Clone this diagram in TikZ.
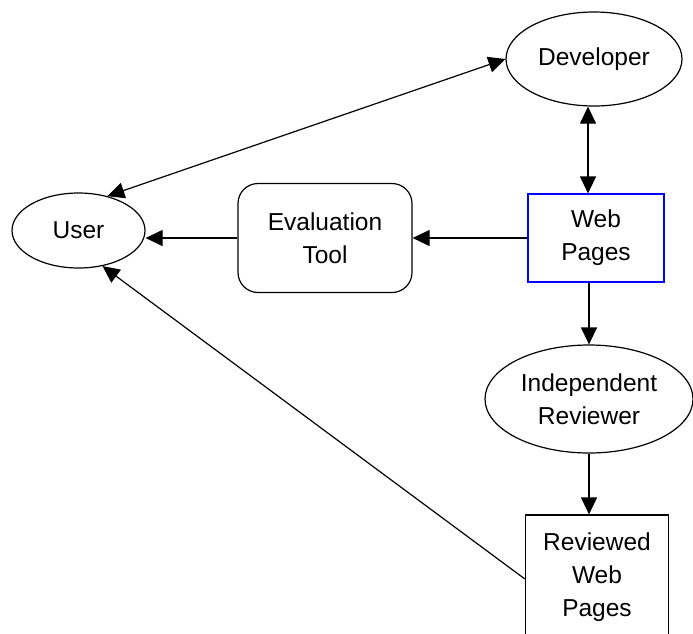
\documentclass[tikz,border=0pt]{standalone}
\usepackage{fontspec}
\setmainfont{Liberation Sans}
\usetikzlibrary{positioning,shapes.geometric,arrows.meta}

\begin{document}
\begin{tikzpicture}[x=1pt, y=-1pt, line width=1.2pt,
  every node/.style={font=\fontsize{24.5}{33}\selectfont, align=center, inner sep=0pt},
  tip/.style={-{Triangle[length=17pt, width=16pt]}},
  both/.style={{Triangle[length=17pt, width=16pt]}-{Triangle[length=17pt, width=16pt]}}]
  \clip (0, 0) rectangle (693, 633);

  \node[draw, ellipse, minimum width=176, minimum height=94] at (594, 59)  (dev)   {Developer};
  \node[draw, ellipse, minimum width=133, minimum height=75] at (78.5, 230.5) (user) {User};
  \node[draw, rounded corners=20, minimum width=174, minimum height=109] at (325, 238) (eval) {Evaluation\\Tool};
  \node[draw=blue, minimum width=136, minimum height=88] at (596, 238) (web) {Web\\Pages};
  \node[draw, ellipse, minimum width=208, minimum height=108] at (589, 399) (indep) {Independent\\Reviewer};
  \node[draw, minimum width=143, minimum height=124] at (597, 577) (rwp) {Reviewed\\Web\\Pages};

  \draw[both] (user.50) -- (dev.west);
  \draw[both] ([xshift=-6]dev.south) -- ([xshift=-6]dev.south |- web.north);

  \draw[tip] (web.west) -- (eval.east);
  \draw[tip] (eval.west) -- (eval.west -| user.east);
  \draw[tip] ([xshift=-7]web.south) -- ([xshift=-7]web.south |- indep.north);
  \draw[tip] (indep.south) -- (indep.south |- rwp.north);
  \draw[tip] ([yshift=-2]rwp.west) -- (user.-56);

\end{tikzpicture}
\end{document}
